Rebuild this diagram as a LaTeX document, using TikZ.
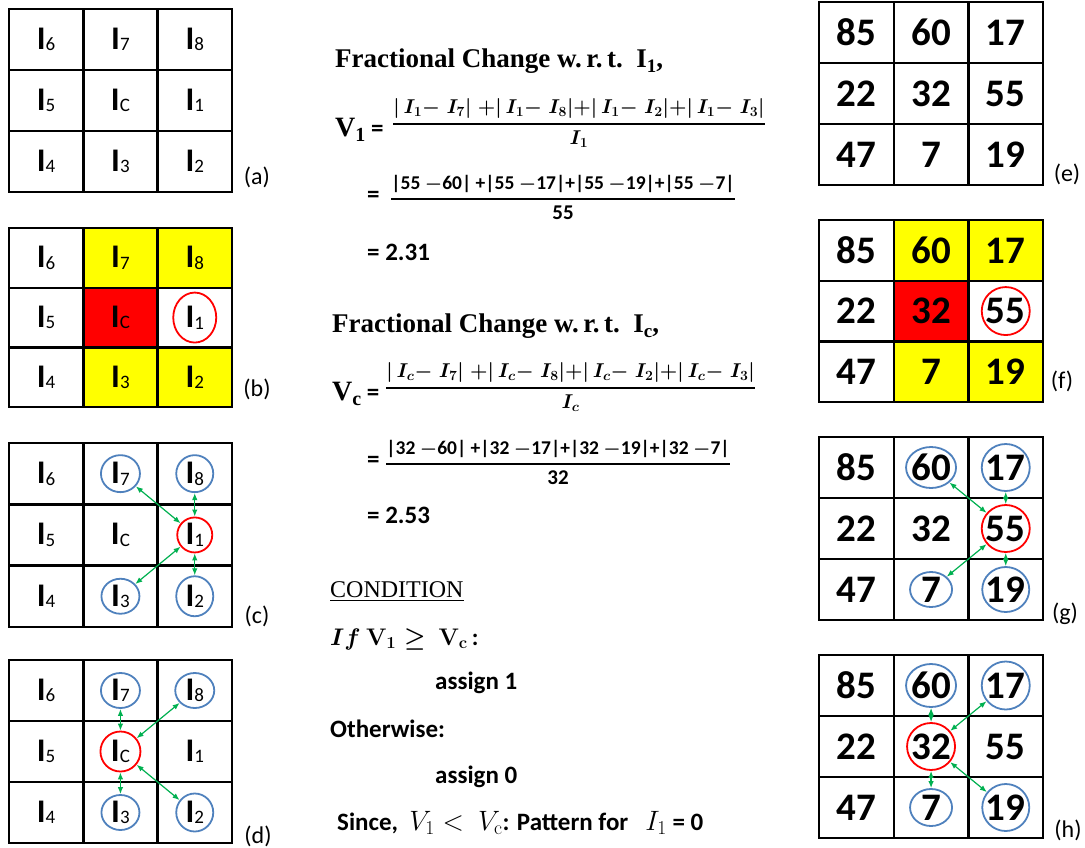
\RequirePackage{fix-cm}
\documentclass[tikz,border=0pt]{standalone}
\usepackage{amsmath}
\usepackage[no-math]{fontspec}
\setmainfont{Carlito}
\newfontfamily\cambria{Liberation Serif}
\usetikzlibrary{arrows.meta,positioning,shapes.geometric,backgrounds}
\definecolor{ringblue}{HTML}{4F81BD}
\definecolor{ringred}{HTML}{FF0000}
\definecolor{linkgreen}{HTML}{00B050}
\definecolor{hlyellow}{HTML}{FFFF00}
\definecolor{hlred}{HTML}{FF0000}
\newcommand{\ix}[1]{{\fontsize{33}{33}\selectfont I}\raisebox{-1.5pt}{\fontsize{19}{19}\mdseries\selectfont #1}}
\newcommand{\bfrac}[2]{\genfrac{}{}{1.4pt}{0}{#1}{#2}}

\begin{document}
\begin{tikzpicture}[x=1pt, y=-1pt,
  >={Latex[length=7pt,width=5.5pt]},
  cell/.style={draw=black, line width=2.4pt, minimum width=74.3pt, minimum height=61pt, inner sep=0pt, font=\bfseries},
  num/.style={cell, minimum width=74.7pt, font=\bfseries\fontsize{39}{39}\selectfont},
  ring/.style={ellipse, draw=ringblue, line width=1.8pt, inner sep=0pt},
  hotring/.style={ring, draw=ringred},
  link/.style={<->, draw=linkgreen, line width=1.2pt},
  txt/.style={inner sep=0pt, font=\bfseries\fontsize{25}{30}\selectfont},
  head/.style={inner sep=0pt, font=\cambria\bfseries\fontsize{27}{32}\selectfont},
  eqn/.style={inner sep=0pt, font=\fontsize{20}{24}\selectfont\boldmath},
  tag/.style={inner sep=0pt, font=\fontsize{24}{28}\selectfont}
]
\useasboundingbox (0,0) rectangle (1085,847);

% left grids: pixel indices
\foreach \g/\gy/\h in {a/9/61, b/228/59.7, c/443/61.3, d/660/61}
  \foreach \row [count=\rw] in {{6,7,8},{5,C,1},{4,3,2}}
    \foreach \lab [count=\cl] in \row
      \node[cell, minimum height=\h pt] (\g-\rw-\cl) at ({9+(\cl-0.5)*74.3},{\gy+(\rw-0.5)*\h}) {\ix{\lab}};

% right grids: pixel values
\foreach \g/\gy/\h in {e/2/61, f/220/60.7, g/437/61, h/655/61}
  \foreach \row [count=\rw] in {{85,60,17},{22,32,55},{47,7,19}}
    \foreach \lab [count=\cl] in \row
      \node[num, minimum height=\h pt] (\g-\rw-\cl) at ({819+(\cl-0.5)*74.7},{\gy+(\rw-0.5)*\h}) {\lab};

\begin{scope}[on background layer]
  \foreach \g in {b,f} {
    \fill[hlyellow] (\g-1-2.north west) rectangle (\g-1-3.south east);
    \fill[hlred] (\g-2-2.north west) rectangle (\g-2-2.south east);
    \fill[hlyellow] (\g-3-2.north west) rectangle (\g-3-3.south east);
  }
\end{scope}

\node[tag] (ta) at (257,177) {(a)};
\node[tag] (tb) at (257,389) {(b)};
\node[tag] (tc) at (257,616) {(c)};
\node[tag] (td) at (258,836) {(d)};
\node[tag] (te) at (1067,174) {(e)};
\node[tag] (tf) at (1062,381) {(f)};
\node[tag] (tg) at (1065,614) {(g)};
\node[tag] (th) at (1068,830) {(h)};

% marked pixels
\node[hotring, minimum width=43pt, minimum height=50pt] (b1) at (b-2-3) {};
\node[hotring, minimum width=48pt, minimum height=48pt] (f55) at (f-2-3) {};

\node[ring, minimum width=39pt, minimum height=37pt] (c7) at (c-1-2) {};
\node[ring, minimum width=37pt, minimum height=37pt] (c8) at (c-1-3) {};
\node[hotring, minimum width=35pt, minimum height=35pt] (c1) at (c-2-3) {};
\node[ring, minimum width=38pt, minimum height=35pt] (c3) at (c-3-2) {};
\node[ring, minimum width=37pt, minimum height=40pt] (c2) at (c-3-3) {};
\foreach \u in {c7,c8,c3,c2} \draw[link] (\u) -- (c1);

\node[ring, minimum width=39pt, minimum height=35pt] (d7) at (d-1-2) {};
\node[ring, minimum width=39pt, minimum height=35pt] (d8) at (d-1-3) {};
\node[hotring, minimum width=40pt, minimum height=40pt] (dc) at (d-2-2) {};
\node[ring, minimum width=38pt, minimum height=35pt] (d3) at (d-3-2) {};
\node[ring, minimum width=37pt, minimum height=38pt] (d2) at (d-3-3) {};
\foreach \u in {d7,d8,d3,d2} \draw[link] (\u) -- (dc);

\node[ring, minimum width=50pt, minimum height=41pt] (g60) at (g-1-2) {};
\node[ring, minimum width=48pt, minimum height=47pt] (g17) at (g-1-3) {};
\node[hotring, minimum width=48pt, minimum height=47pt] (g55) at (g-2-3) {};
\node[ring, minimum width=42pt, minimum height=35pt] (g7) at (g-3-2) {};
\node[ring, minimum width=47pt, minimum height=45pt] (g19) at (g-3-3) {};
\foreach \u in {g60,g17,g7,g19} \draw[link] (\u) -- (g55);

\node[ring, minimum width=50pt, minimum height=43pt] (h60) at (h-1-2) {};
\node[ring, minimum width=48pt, minimum height=48pt] (h17) at (h-1-3) {};
\node[hotring, minimum width=48pt, minimum height=47pt] (h32) at (h-2-2) {};
\node[ring, minimum width=42pt, minimum height=37pt] (h7) at (h-3-2) {};
\node[ring, minimum width=47pt, minimum height=47pt] (h19) at (h-3-3) {};
\foreach \u in {h60,h17,h7,h19} \draw[link] (\u) -- (h32);

% worked example
\node[head, anchor=base west] (hd1) at (335,67) {Fractional Change w.\,r.\,t.\ \ I\raisebox{-5pt}{\fontsize{19}{19}\selectfont 1},};
\node[txt, anchor=base west] (v1) at (335,136) {{\cambria\fontsize{28}{30}\selectfont V\raisebox{-5pt}{\fontsize{20}{20}\selectfont 1}} =};
\node[eqn, anchor=west] (fr1) at (392,123) {$\bfrac{|\,I_1{-}\;I_7|\;{+}|\,I_1{-}\;I_8|{+}|\,I_1{-}\;I_2|{+}|\,I_1{-}\;I_3|}{I_1}$};
\node[txt, anchor=west] (eq1) at (367,197) {=};
\node[eqn, anchor=west] (nm1) at (390,197) {$\bfrac{\mbox{\bfseries\fontsize{19.5}{24}\selectfont |55 $-$60| +|55 $-$17|+|55 $-$19|+|55 $-$7|}}{\mbox{\bfseries\fontsize{21}{24}\selectfont 55}}$};
\node[txt, anchor=base west] (r1) at (367,260) {= 2.31};

\node[head, anchor=base west] (hd2) at (332,332) {Fractional Change w.\,r.\,t.\ \ I\raisebox{-5pt}{\fontsize{19}{19}\selectfont c},};
\node[txt, anchor=base west] (vc) at (332,400) {{\cambria\fontsize{28}{30}\selectfont V\raisebox{-5pt}{\fontsize{20}{20}\selectfont c}} =};
\node[eqn, anchor=west] (fr2) at (385,387) {$\bfrac{|\,I_c{-}\;I_7|\;{+}|\,I_c{-}\;I_8|{+}|\,I_c{-}\;I_2|{+}|\,I_c{-}\;I_3|}{I_c}$};
\node[txt, anchor=west] (eq2) at (367,462) {=};
\node[eqn, anchor=west] (nm2) at (385,462) {$\bfrac{\mbox{\bfseries\fontsize{19.5}{24}\selectfont |32 $-$60| +|32 $-$17|+|32 $-$19|+|32 $-$7|}}{\mbox{\bfseries\fontsize{21}{24}\selectfont 32}}$};
\node[txt, anchor=base west] (r2) at (367,523) {= 2.53};

\node[inner sep=0pt, anchor=base west, font=\cambria\fontsize{24}{28}\selectfont] (cond) at (330,597) {\underline{CONDITION}};
\node[txt, anchor=base west, font=\bfseries\fontsize{24}{30}\selectfont\boldmath] (ifv) at (330,645) {$If\ \mathbf{V}_{\mathbf 1}\geq\ \mathbf{V}_{\mathrm c}$\,:};
\node[txt, anchor=base west] (as1) at (435,689) {assign 1};
\node[txt, anchor=base west] (oth) at (330,737) {Otherwise:};
\node[txt, anchor=base west] (as0) at (435,783) {assign 0};
\node[txt, anchor=base west] (snc) at (337,830) {Since, \ {\fontsize{28}{30}\selectfont$V_1 <\ V_{\mathrm c}$}: Pattern for \ \ {\fontsize{28}{30}\selectfont$I_1$} = 0};
\end{tikzpicture}
\end{document}
